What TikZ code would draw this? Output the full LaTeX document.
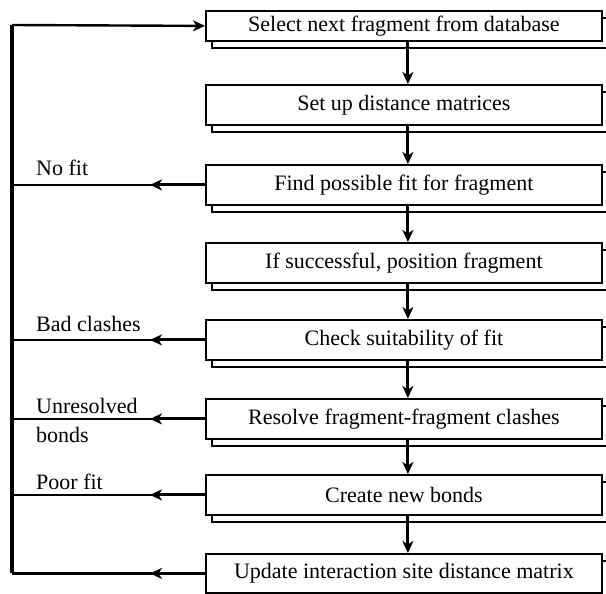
\documentclass[tikz,border=0pt]{standalone}
\usepackage{fontspec}
\setmainfont{Liberation Serif}
\usetikzlibrary{arrows.meta,shadows}
\begin{document}
\begin{tikzpicture}[x=1bp,y=-1bp,
  stepbox/.style={draw, line width=1.8bp, fill=white, minimum width=396bp,
    inner sep=0pt, anchor=north west,
    copy shadow={shadow xshift=6bp, shadow yshift=-7bp},
    font=\fontsize{22bp}{26bp}\selectfont},
  lab/.style={anchor=base west, inner sep=0pt, font=\fontsize{22bp}{26bp}\selectfont},
  tip/.style={-{Stealth[length=12bp,width=11bp,inset=3.5bp]}},
  flow/.style={line width=3bp, tip},
  back/.style={line width=3bp, tip},
  railline/.style={line width=2.4bp},
  railv/.style={line width=3.2bp}]
\useasboundingbox (0,0) rectangle (606,594);

% process steps
\node[stepbox, minimum height=30bp] (b1) at (205,10)  {Select next fragment from database};
\node[stepbox, minimum height=40bp] (b2) at (205,84)  {Set up distance matrices};
\node[stepbox, minimum height=40bp] (b3) at (205,164) {Find possible fit for fragment};
\node[stepbox, minimum height=40bp] (b4) at (205,242) {If successful, position fragment};
\node[stepbox, minimum height=40bp] (b5) at (205,319) {Check suitability of fit};
\node[stepbox, minimum height=40bp] (b6) at (205,398) {Resolve fragment-fragment clashes};
\node[stepbox, minimum height=40bp] (b7) at (205,474) {Create new bonds};
\node[stepbox, minimum height=39bp] (b8) at (205,553) {Update interaction site distance matrix};

% main flow downwards
\foreach \a/\b in {b1/b2,b2/b3,b3/b4,b4/b5,b5/b6,b6/b7,b7/b8}
  \draw[flow] ([xshift=4bp]\a.south) -- ([xshift=4bp]\b.north);

% return rail on the left
\coordinate (railtop) at (12,25);
\draw[railv] (railtop |- b8.west) -- (railtop);
\draw[railline, tip] (railtop) -- (b1.west);

% feedback branches
\foreach \n in {b3,b5,b6,b7,b8}{
  \draw[back] (\n.west) -- ([xshift=-55bp]\n.west);
  \draw[railline] ([xshift=-52bp]\n.west) -- (\n.west -| railtop);
}

% branch labels
\node[lab] (l3)  at (36,176) {No fit};
\node[lab] (l5)  at (36,331) {Bad clashes};
\node[lab] (l6a) at (36,413) {Unresolved};
\node[lab] (l6b) at (36,442) {bonds};
\node[lab] (l7)  at (36,489) {Poor fit};
\end{tikzpicture}
\end{document}
